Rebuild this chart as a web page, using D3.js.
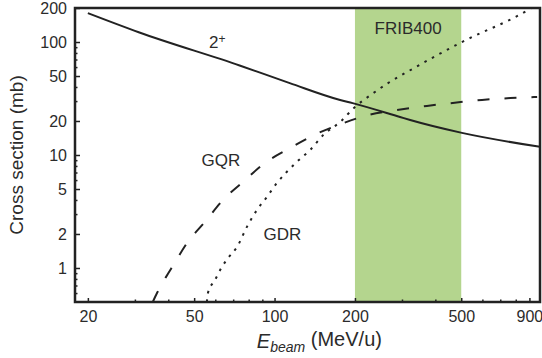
<!DOCTYPE html>
<html>
<head>
<meta charset="utf-8">
<script src="https://cdn.jsdelivr.net/npm/d3@7"></script>
<style>
    body { margin: 0; background: #fff; }
    text { font-family: "Liberation Sans", Arial, sans-serif; fill: #2b2b2b; }
    .curve { fill: none; stroke: #222; stroke-width: 2; }
    .axis path { display: none; }
    .axis line { stroke: #222; stroke-width: 1.5; }
    .axis text { font-size: 16px; }
</style>
</head>
<body>
<svg id="chart" width="542" height="358"></svg>
<script>
// axis ticks
const energyLabels = [20, 50, 100, 200, 500, 900];
const sectionLabels = [1, 2, 5, 10, 20, 50, 100, 200];

// FRIB400 energy window (MeV/u)
const fribRange = [200, 500];

// 2+ excitation (solid)
const e2plus  = [20, 31, 74, 114, 176, 196, 295, 322, 503, 986];
const xs2plus = [180, 122, 62, 43.3, 30.7, 28.8, 21.7, 20.4, 15.7, 11.8];

// GQR (dashed)
const eGQR  = [35, 36.3, 39.2, 42, 47, 54.8, 64.1, 76.1, 92, 114, 143, 177, 225, 287, 372, 465, 598, 762, 962];
const xsGQR = [0.5, 0.6, 0.83, 1.08, 1.66, 2.55, 4.0, 5.77, 8.5, 11.5, 15.3, 18.8, 22.6, 25.0, 27.2, 28.9, 30.7, 31.9, 32.6];

// GDR (dotted)
const eGDR  = [55.8, 56.3, 59.8, 63.5, 66.9, 72.3, 78.8, 85.9, 93.6, 102, 111, 121, 136, 152, 176, 200, 232, 266, 313, 503, 889, 930];
const xsGDR = [0.5, 0.6, 0.78, 1.02, 1.22, 1.53, 2.31, 3.26, 4.25, 5.65, 7.07, 8.67, 11.1, 15.0, 19.6, 26.6, 34.7, 43.3, 54.2, 100, 192, 205];

const margin = {top: 8, right: 2, bottom: 56, left: 75};
const svg = d3.select("#chart");
const width = +svg.attr("width") - margin.left - margin.right;
const height = +svg.attr("height") - margin.top - margin.bottom;

const x = d3.scaleLog().domain([17.9, 986]).range([0, width]);
const y = d3.scaleLog().domain([0.5, 200]).range([height, 0]);

const g = svg.append("g").attr("transform", `translate(${margin.left},${margin.top})`);

g.append("clipPath").attr("id", "plot-clip")
    .append("rect").attr("width", width).attr("height", height);

// FRIB band
g.append("rect")
    .attr("x", x(fribRange[0]))
    .attr("width", x(fribRange[1]) - x(fribRange[0]))
    .attr("y", 0)
    .attr("height", height)
    .attr("fill", "#b4d58e");

g.append("text")
    .attr("x", x(Math.sqrt(fribRange[0] * fribRange[1])))
    .attr("y", y(132))
    .attr("dy", "0.35em")
    .attr("text-anchor", "middle")
    .style("font-size", "17px")
    .text("FRIB400");

// curves
const line = d3.line()
    .x(d => x(d[0]))
    .y(d => y(d[1]))
    .curve(d3.curveMonotoneX);

const curves = [
    {e: e2plus, xs: xs2plus, dash: null, w: 2},
    {e: eGQR, xs: xsGQR, dash: "12,15", w: 2},
    {e: eGDR, xs: xsGDR, dash: "2.5,6", w: 2.5}
];

g.append("g").attr("clip-path", "url(#plot-clip)")
    .selectAll("path").data(curves).enter()
    .append("path")
    .attr("class", "curve")
    .attr("stroke-width", d => d.w)
    .attr("stroke-dasharray", d => d.dash)
    .attr("d", d => line(d3.zip(d.e, d.xs)));

// curve labels
const lab2 = g.append("text")
    .attr("x", x(61))
    .attr("y", y(100))
    .attr("dy", "0.35em")
    .attr("text-anchor", "middle")
    .style("font-size", "17px");
lab2.append("tspan").text("2");
lab2.append("tspan").attr("dy", "-0.45em").style("font-size", "12px").text("+");

g.append("text")
    .attr("x", x(63)).attr("y", y(9.1)).attr("dy", "0.35em")
    .attr("text-anchor", "middle").style("font-size", "17px")
    .text("GQR");

g.append("text")
    .attr("x", x(107)).attr("y", y(2.0)).attr("dy", "0.35em")
    .attr("text-anchor", "middle").style("font-size", "17px")
    .text("GDR");

// axes with inward ticks
const xTicks = d3.range(2, 10).map(d => d * 10)
    .concat(d3.range(1, 10).map(d => d * 100));
const yTicks = [0.6, 0.7, 0.8, 0.9]
    .concat(d3.range(1, 10), d3.range(1, 10).map(d => d * 10), [100, 200]);

const xAxis = g.append("g").attr("class", "axis")
    .attr("transform", `translate(0,${height})`)
    .call(d3.axisBottom(x).tickValues(xTicks).tickSize(-2).tickPadding(9)
        .tickFormat(d => energyLabels.includes(d) ? d : ""));
xAxis.selectAll(".tick line")
    .attr("y2", d => energyLabels.includes(d) ? -4 : -2.5);

const yAxis = g.append("g").attr("class", "axis")
    .call(d3.axisLeft(y).tickValues(yTicks).tickSize(-2).tickPadding(8)
        .tickFormat(d => sectionLabels.includes(d) ? d : ""));
yAxis.selectAll(".tick line")
    .attr("x2", d => sectionLabels.includes(d) ? 5 : 2.5);

// frame
g.append("rect")
    .attr("width", width).attr("height", height)
    .attr("fill", "none").attr("stroke", "#222").attr("stroke-width", 2.5);

// axis titles
svg.append("text")
    .attr("transform", `translate(23,${margin.top + height / 2}) rotate(-90)`)
    .attr("text-anchor", "middle")
    .style("font-size", "19px")
    .text("Cross section (mb)");

const xt = svg.append("text")
    .attr("x", margin.left + x(20) + 169)
    .attr("y", 348)
    .style("font-size", "20px");
xt.append("tspan").style("font-style", "italic").text("E");
xt.append("tspan").attr("dy", "0.3em").style("font-style", "italic").style("font-size", "14px").text("beam");
xt.append("tspan").attr("dy", "-0.3em").text(" (MeV/u)");
</script>
</body>
</html>
